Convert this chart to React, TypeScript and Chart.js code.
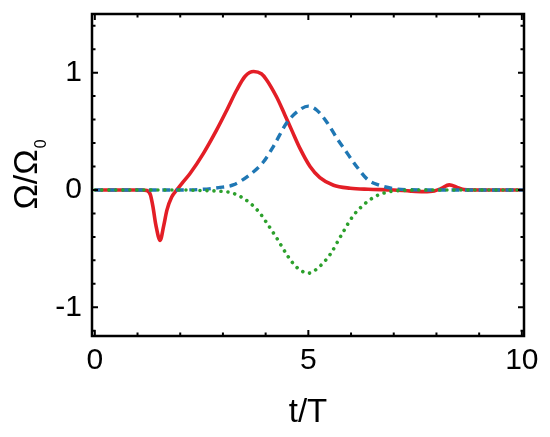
import { useEffect, useRef } from 'react'
import { Chart, registerables } from 'chart.js'

Chart.register(...registerables)

// values
const redT = [0, 1.1, 1.22, 1.3, 1.36, 1.43, 1.53, 1.61, 1.69, 1.8, 1.92, 2.05, 2.23, 2.54, 2.85, 3.09, 3.32, 3.52, 3.72, 3.9, 4.02, 4.26, 4.45, 4.61, 4.81, 5.04, 5.27, 5.59, 5.98, 6.4, 7.0, 7.4, 7.7, 7.95, 8.1, 8.3, 8.5, 8.65, 9.0, 10.1]
const redV = [0, 0, -0.005, -0.04, -0.14, -0.3, -0.43, -0.31, -0.17, -0.06, 0, 0.06, 0.14, 0.31, 0.51, 0.68, 0.85, 0.97, 1.01, 0.99, 0.94, 0.79, 0.64, 0.51, 0.35, 0.2, 0.105, 0.04, 0.015, 0.006, 0, -0.01, -0.014, -0.008, 0.01, 0.043, 0.02, 0.003, 0, 0]

const blueT = [0, 2.0, 2.5, 2.9, 3.24, 3.63, 3.95, 4.18, 4.49, 4.75, 5.0, 5.2, 5.43, 5.67, 5.86, 6.13, 6.4, 6.64, 7.03, 7.4, 8.0, 10.1]
const blueV = [0, 0, 0.005, 0.02, 0.043, 0.13, 0.24, 0.37, 0.57, 0.67, 0.715, 0.68, 0.58, 0.44, 0.34, 0.2, 0.085, 0.043, 0.01, 0.002, 0, 0]

const greenT = [0, 2.0, 2.5, 2.9, 3.24, 3.63, 3.87, 4.06, 4.26, 4.53, 4.73, 5.0, 5.27, 5.51, 5.78, 6.05, 6.29, 6.56, 6.9, 7.3, 8.0, 10.1]
const greenV = [0, 0, -0.005, -0.01, -0.028, -0.11, -0.2, -0.3, -0.41, -0.57, -0.66, -0.71, -0.65, -0.55, -0.38, -0.22, -0.128, -0.057, -0.015, -0.003, 0, 0]

const xTicks = [0, 1, 2, 3, 4, 5, 6, 7, 8, 9, 10]
const yTicks = [-1.2, -1.0, -0.8, -0.6, -0.4, -0.2, 0, 0.2, 0.4, 0.6, 0.8, 1.0, 1.2, 1.4]

const FONT = "'Liberation Sans', Arial, sans-serif"

const isMajorX = (v: number) => Math.abs(v % 5) < 1e-6
const isMajorY = (v: number) => Math.abs(v - Math.round(v)) < 1e-6

const toPoints = (t: number[], v: number[]) => t.map((x, i) => ({ x, y: v[i] }))

// inward ticks on all four sides and the black frame
const framePlugin = {
  id: 'frame',
  afterDatasetsDraw(chart: any) {
    const { ctx, chartArea: a, scales } = chart
    ctx.save()
    ctx.strokeStyle = '#000'
    ctx.lineWidth = 2
    ctx.beginPath()
    xTicks.forEach((v) => {
      const px = scales.x.getPixelForValue(v)
      const len = isMajorX(v) ? 6 : 3.5
      ctx.moveTo(px, a.bottom)
      ctx.lineTo(px, a.bottom - len)
      ctx.moveTo(px, a.top)
      ctx.lineTo(px, a.top + len)
    })
    yTicks.forEach((v) => {
      const py = scales.y.getPixelForValue(v)
      const len = isMajorY(v) ? 6 : 3.5
      ctx.moveTo(a.left, py)
      ctx.lineTo(a.left + len, py)
      ctx.moveTo(a.right, py)
      ctx.lineTo(a.right - len, py)
    })
    ctx.stroke()
    ctx.lineWidth = 2.5
    ctx.strokeRect(a.left, a.top, a.right - a.left, a.bottom - a.top)
    ctx.restore()
  },
  afterDraw(chart: any) {
    // y title with a real subscript
    const { ctx, chartArea: a } = chart
    ctx.save()
    const big = `34px ${FONT}`
    const small = `16px ${FONT}`
    ctx.font = big
    const w1 = ctx.measureText('Ω/Ω').width
    ctx.font = small
    const w2 = ctx.measureText('0').width
    const cx = a.left - 68
    const cy = (a.top + a.bottom) / 2
    ctx.translate(cx, cy)
    ctx.rotate(-Math.PI / 2)
    ctx.fillStyle = '#000'
    ctx.textBaseline = 'alphabetic'
    const start = -(w1 + w2) / 2
    ctx.font = big
    ctx.fillText('Ω/Ω', start, 13)
    ctx.font = small
    ctx.fillText('0', start + w1 + 1, 22)
    ctx.restore()
  },
}

const App = () => {
  const canvasRef = useRef<HTMLCanvasElement>(null)
  const chartInstance = useRef<Chart | null>(null)

  useEffect(() => {
    if (!canvasRef.current) return
    if (chartInstance.current) chartInstance.current.destroy()

    Chart.defaults.font.family = FONT
    Chart.defaults.color = '#000'

    chartInstance.current = new Chart(canvasRef.current, {
      type: 'line',
      data: {
        datasets: [
          {
            label: 'green',
            data: toPoints(greenT, greenV),
            borderColor: '#2ca02c',
            borderWidth: 3.6,
            borderDash: [0.01, 7],
            borderCapStyle: 'round',
            pointRadius: 0,
            cubicInterpolationMode: 'monotone',
          },
          {
            label: 'blue',
            data: toPoints(blueT, blueV),
            borderColor: '#1f77b4',
            borderWidth: 3.4,
            borderDash: [8, 5.5],
            pointRadius: 0,
            cubicInterpolationMode: 'monotone',
          },
          {
            label: 'red',
            data: toPoints(redT, redV),
            borderColor: '#e31e26',
            borderWidth: 3.6,
            pointRadius: 0,
            cubicInterpolationMode: 'monotone',
          },
        ],
      },
      options: {
        animation: false,
        responsive: false,
        layout: { padding: { top: 14, right: 26, left: 0, bottom: 0 } },
        plugins: { legend: { display: false }, tooltip: { enabled: false } },
        scales: {
          x: {
            type: 'linear',
            min: -0.066,
            max: 10.05,
            grid: { display: false, drawTicks: false },
            border: { display: false },
            afterBuildTicks: (scale: any) => {
              scale.ticks = xTicks.map((value) => ({ value }))
            },
            afterFit: (scale: any) => {
              scale.height = 101
              scale.paddingLeft = 0
              scale.paddingRight = 0
            },
            ticks: {
              autoSkip: false,
              maxRotation: 0,
              padding: 7,
              font: { size: 30 },
              callback: (v: any) => (isMajorX(Number(v)) ? String(v) : ''),
            },
            title: {
              display: true,
              text: 't/T',
              font: { size: 33 },
              padding: { top: 0, bottom: 4 },
            },
          },
          y: {
            type: 'linear',
            min: -1.245,
            max: 1.5,
            grid: { display: false, drawTicks: false },
            border: { display: false },
            afterBuildTicks: (scale: any) => {
              scale.ticks = yTicks.map((value) => ({ value }))
            },
            afterFit: (scale: any) => {
              scale.width = 92
              scale.paddingTop = 0
              scale.paddingBottom = 0
            },
            ticks: {
              autoSkip: false,
              padding: 10,
              font: { size: 30 },
              callback: (v: any) => (isMajorY(Number(v)) ? String(Math.round(Number(v))) : ''),
            },
          },
        },
      },
      plugins: [framePlugin],
    } as any)

    return () => {
      if (chartInstance.current) {
        chartInstance.current.destroy()
        chartInstance.current = null
      }
    }
  }, [])

  return (
    <div style={{ position: 'fixed', left: 0, top: 0, width: 550, height: 437, background: '#fff' }}>
      <canvas ref={canvasRef} width={550} height={437} />
    </div>
  )
}

export default App
